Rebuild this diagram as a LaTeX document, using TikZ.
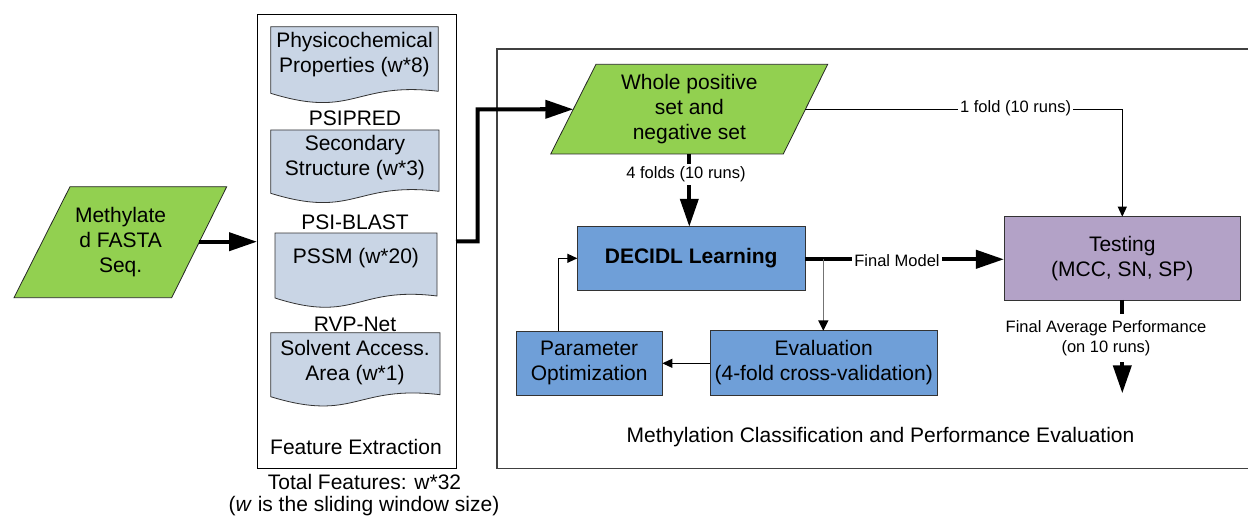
\documentclass[tikz,border=0pt]{standalone}
\usepackage{fontspec}
\setmainfont{Liberation Sans}
\usetikzlibrary{arrows.meta}
\definecolor{pgreen}{HTML}{92D050}
\definecolor{docfill}{HTML}{C9D5E5}
\definecolor{bluebox}{HTML}{6F9FD8}
\definecolor{lav}{HTML}{B3A2C7}
\begin{document}
\begin{tikzpicture}[x=1pt,y=-1pt,
  big/.style={font=\fontsize{21}{25}\selectfont, align=center, inner sep=0pt},
  small/.style={font=\fontsize{16.5}{20}\selectfont, align=center},
  para/.style={fill=pgreen, draw=black!85, line width=0.8pt},
  docshape/.style={fill=docfill, draw=black!80, line width=0.8pt},
  boxnode/.style={draw=black!80, line width=0.8pt, inner sep=0pt, outer sep=0pt, align=center, font=\fontsize{21}{25}\selectfont},
  thickarrow/.style={line width=4pt, -{Triangle[length=28pt,width=18pt]}},
  thinarrow/.style={line width=1.1pt, -{Triangle[length=10pt,width=9pt]}},
  lbl/.style={small, fill=white, inner xsep=2pt, inner ysep=3pt}
]
\useasboundingbox (0,0) rectangle (1248,516);

% outer container on the right
\draw[black!75, line width=1.2pt] (1250,49) -- (497,49) -- (497,468.3) -- (1250,468.3);
\node[big] (mcpe) at (880.5,437) {Methylation Classification and Performance Evaluation};

% feature extraction container
\node[draw=black, line width=0.9pt, minimum width=199pt, minimum height=454pt, inner sep=0pt, outer sep=0pt, anchor=north west] (fe) at (257,14.5) {};
\node[big] (fetext) at (356,446.5) {Feature Extraction};
\node[big] (total) at (364.5,482) {Total Features: w*32};
\node[big] (wsize) at (364,506) {(\textit{w} is the sliding window size)};

% left input parallelogram
\draw[para] (70,186.7) -- (226.7,186.7) -- (171.7,297.7) -- (14,297.7) -- cycle;
\node[big] (meth) at (120.6,242) {Methylate\\d FASTA\\Seq.};
\coordinate (methR) at (199.4,241.7);

% documents
\draw[docshape] (270.7,26.7) -- (438.3,26.7) -- (438.3,91.3) .. controls (354.5,81.3) and (354.5,119.3) .. (270.7,93.3) -- cycle;
\node[big] (phys) at (354.5,55) {Physicochemical\\Properties (w*8)};
\node[big] (psipred) at (355,118) {PSIPRED};
\draw[docshape] (270.7,130) -- (439,130) -- (439,191.3) .. controls (354.8,181.3) and (354.8,219.3) .. (270.7,193.3) -- cycle;
\node[big] (sec) at (355,157.5) {Secondary\\Structure (w*3)};
\node[big] (psiblast) at (355,222.5) {PSI-BLAST};
\draw[docshape] (275,233) -- (437,233) -- (437,296) .. controls (356,286) and (356,324) .. (275,298) -- cycle;
\node[big] (pssm) at (356,258) {PSSM (w*20)};
\node[big] (rvp) at (355,324) {RVP-Net};
\draw[docshape] (270.7,332.7) -- (440,332.7) -- (440,394.7) .. controls (355.3,384.7) and (355.3,422.7) .. (270.7,396.7) -- cycle;
\node[big] (solv) at (355,362.5) {Solvent Access.\\Area (w*1)};

% whole positive set parallelogram
\draw[para] (596,64.3) -- (827.7,64.3) -- (783.3,154) -- (550.7,154) -- cycle;
\node[big] (whole) at (689.4,109.3) {Whole positive\\set and\\negative set};
\coordinate (wpL) at (573.3,109.3);
\coordinate (wpR) at (805.4,109.3);
\coordinate (wpB) at (689.3,154);

% process boxes
\node[boxnode, fill=bluebox, minimum width=227.7pt, minimum height=63.3pt, font=\fontsize{21}{25}\selectfont\bfseries] (dec) at (691.2,258.4) {DECIDL Learning};
\node[boxnode, fill=bluebox, minimum width=227.3pt, minimum height=64.3pt] (eval) at (823.7,362.9) {Evaluation\\(4-fold cross-validation)};
\node[boxnode, fill=bluebox, minimum width=146.3pt, minimum height=64pt] (param) at (589.2,363) {Parameter\\Optimization};
\node[boxnode, fill=lav, minimum width=236.7pt, minimum height=83.3pt] (test) at (1122.3,258.3) {Testing\\(MCC, SN, SP)};

% connectors
\draw[thickarrow] (methR) -- (fe.west |- methR);
\draw[line width=4pt, line join=miter] (fe.east) -- (477.7,241.3) -- (477.7,109.3) -- (545,109.3);
\draw[thickarrow] (540,109.3) -- (wpL);

\draw[thickarrow] (wpB) -- (dec.north -| wpB);
\node[lbl] (fourf) at (686,174.3) {4 folds (10 runs)};

\draw[thinarrow, line join=miter] (wpR) -- (1122.3,109.3) -- (test.north);
\node[lbl] (onef) at (1015.6,108) {1 fold (10 runs)};

\draw[thickarrow] (dec.east |- 0,259.3) -- (test.west |- 0,259.3);
\node[lbl] (fm) at (897,261) {Final Model};

\coordinate (br) at (823.3,259.3);
\draw[black!55, line width=1.5pt, -{Triangle[length=10.5pt,width=10pt,fill=black,color=black]}] (br) -- (br |- eval.north);
\draw[thinarrow] (eval.west |- 0,363.3) -- (param.east |- 0,363.3);
\draw[thinarrow, line join=miter] (param.north -| 558.3,0) -- (558.3,258.3) -- (dec.west |- 0,258.3);

\coordinate (outend) at (1122.3,393.3);
\draw[thickarrow] (test.south) -- (outend);
\node[small, fill=white, inner xsep=2pt, inner ysep=6pt] (fap) at (1106,338) {Final Average Performance\\(on 10 runs)};
\end{tikzpicture}
\end{document}
